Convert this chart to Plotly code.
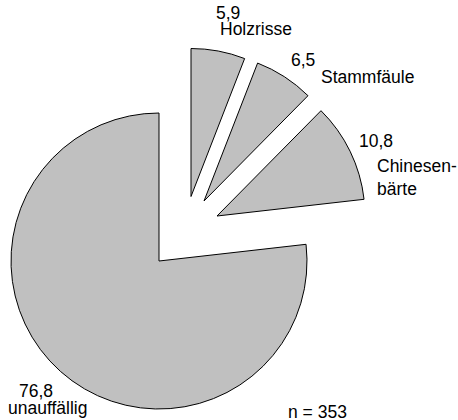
import plotly.graph_objects as go

# Anteile der Befundklassen in Prozent (n = 353)
categories = ["Holzrisse", "Stammfäule", "Chinesenbärte", "unauffällig"]
shares = [5.9, 6.5, 10.8, 76.8]
label_names = ["Holzrisse", "Stammfäule", "Chinesen-<br>bärte", "unauffällig"]
sample_size = 353

W, H = 458, 420
R = 148  # pie radius in px
FILL = "#c0c0c0"
FONT = dict(family="Liberation Sans, Arial, Helvetica, sans-serif", size=17.5, color="black")

# pixel position of each slice's apex (the exploded slices are shifted as separate layers)
apex = {
    "Holzrisse": (191, 196.5),
    "Stammfäule": (204, 201),
    "Chinesenbärte": (217, 216),
    "unauffällig": (159, 261),
}

fig = go.Figure()
for i, cat in enumerate(categories):
    cx, cy = apex[cat]
    colors = ["rgba(0,0,0,0)"] * len(categories)
    widths = [0] * len(categories)
    colors[i] = FILL
    widths[i] = 1
    fig.add_trace(go.Pie(
        labels=categories,
        values=shares,
        sort=False,
        direction="clockwise",
        rotation=0,
        textinfo="none",
        hoverinfo="label+value",
        showlegend=False,
        marker=dict(colors=colors, line=dict(color="black", width=widths)),
        domain=dict(
            x=[(cx - R) / W, (cx + R) / W],
            y=[1 - (cy + R) / H, 1 - (cy - R) / H],
        ),
    ))

def fmt(v):
    return f"{v:.1f}".replace(".", ",")

# label placement in px: (value x, value y, name x, name y)
label_pos = {
    "Holzrisse": (215, 13, 219, 29),
    "Stammfäule": (290, 60, 320, 77),
    "Chinesenbärte": (358, 141, 376, 177),
    "unauffällig": (18, 391, 7, 408),
}

annotations = []
for cat, val, name in zip(categories, shares, label_names):
    vx, vy, nx, ny = label_pos[cat]
    annotations.append(dict(x=vx / W, y=1 - vy / H, text=fmt(val), xanchor="left", yanchor="middle"))
    annotations.append(dict(x=nx / W, y=1 - ny / H, text=name, xanchor="left", yanchor="middle", align="left"))
annotations.append(dict(x=287 / W, y=1 - 412 / H, text=f"n = {sample_size}", xanchor="left", yanchor="middle"))

for a in annotations:
    a.update(xref="paper", yref="paper", showarrow=False, font=FONT, borderpad=0)

fig.update_layout(
    width=W, height=H,
    margin=dict(l=0, r=0, t=0, b=0),
    paper_bgcolor="white",
    plot_bgcolor="white",
    annotations=annotations,
)

fig.write_html("out.html")
